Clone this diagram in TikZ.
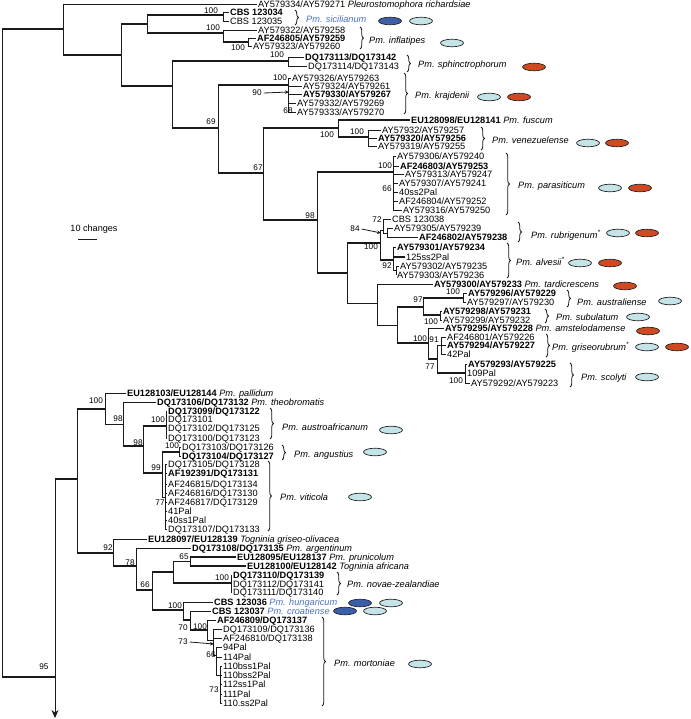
\documentclass[tikz,border=0pt]{standalone}
\usepackage{fontspec}
\setmainfont{Liberation Sans}
\usetikzlibrary{decorations.pathreplacing,arrows.meta}
\definecolor{lb}{HTML}{C4E4E8}
\definecolor{db}{HTML}{3C5FAA}
\definecolor{rd}{HTML}{CF4A22}
\definecolor{bt}{HTML}{4D72C2}
\definecolor{ln}{HTML}{1A1A1A}
\newcommand\hh[3][thk]{\draw[#1] (#2 |- #3) -- (#3);}
\newcommand\vv[3]{\draw[vl] (#1 |- #2) -- (#1 |- #3);}
\newcommand\ovl[3]{\filldraw[fill=#1, draw=black!85, line width=0.7pt] (#2,#3) ellipse [x radius=11.5pt, y radius=3.8pt];}
\begin{document}
\begin{tikzpicture}[x=1pt,y=-1pt,
 thk/.style={line width=2pt, draw=ln},
 thn/.style={line width=0.8pt, draw=ln},
 vl/.style={line width=0.9pt, draw=ln},
 lf/.style={anchor=west, inner xsep=1pt, inner ysep=0pt, font=\fontsize{9.2}{10}\selectfont, text height=6.4pt, text depth=0pt},
 bsv/.style={inner sep=0pt, font=\fontsize{8.2}{9}\selectfont},
 spc/.style={anchor=west, inner sep=0pt, font=\fontsize{9.2}{10}\selectfont\itshape, text height=6.4pt, text depth=0pt},
 br/.style={decorate, decoration={brace, amplitude=3.5pt}, line width=0.8pt, draw=ln}
]
\useasboundingbox[fill=white] (0,0) rectangle (690,719);

% ---------------- leaves, upper clade
\node[lf] (pl) at (257,4) {AY579334/AY579271 \textit{Pleurostomophora richardsiae}};
\node[lf] (si1) at (229,12.5) {\textbf{CBS 123034}};
\node[lf] (si2) at (229,21) {CBS 123035};
\node[lf] (in1) at (257,30) {AY579322/AY579258};
\node[lf] (in2) at (256,38) {\textbf{AF246805/AY579259}};
\node[lf] (in3) at (252,46) {AY579323/AY579260};
\node[lf] (sp1) at (304,57) {\textbf{DQ173113/DQ173142}};
\node[lf] (sp2) at (307,66) {DQ173114/DQ173143};
\node[lf] (kr1) at (291,78) {AY579326/AY579263};
\node[lf] (kr2) at (302,86) {AY579324/AY579261};
\node[lf] (kr3) at (302,94) {\textbf{AY579330/AY579267}};
\node[lf] (kr4) at (296,103) {AY579332/AY579269};
\node[lf] (kr5) at (296,112) {AY579333/AY579270};
\node[lf] (fu) at (410,120) {\textbf{EU128098/EU128141} \textit{Pm. fuscum}};
\node[lf] (ve1) at (381,130) {AY57932/AY579257};
\node[lf] (ve2) at (377,138) {\textbf{AY579320/AY579256}};
\node[lf] (ve3) at (377,146) {AY579319/AY579255};
\node[lf] (pa1) at (396,156) {AY579306/AY579240};
\node[lf] (pa2) at (399,166) {\textbf{AF246803/AY579253}};
\node[lf] (pa3) at (404,174) {AY579313/AY579247};
\node[lf] (pa4) at (398,183) {AY579307/AY579241};
\node[lf] (pa5) at (398,192) {40ss2Pal};
\node[lf] (pa6) at (398,201) {AF246804/AY579252};
\node[lf] (pa7) at (402,210) {AY579316/AY579250};
\node[lf] (ru1) at (391,219) {CBS 123038};
\node[lf] (ru2) at (393,228) {AY579305/AY579239};
\node[lf] (ru3) at (418,237) {\textbf{AF246802/AY579238}};
\node[lf] (al1) at (396,247) {\textbf{AY579301/AY579234}};
\node[lf] (al2) at (405,257) {125ss2Pal};
\node[lf] (al3) at (399,266) {AY579302/AY579235};
\node[lf] (al4) at (396,275) {AY579303/AY579236};
\node[lf] (ta) at (433,284) {\textbf{AY579300/AY579233} \textit{Pm. tardicrescens}};
\node[lf] (au1) at (467,293) {\textbf{AY579296/AY579229}};
\node[lf] (au2) at (466,302) {AY579297/AY579230};
\node[lf] (su1) at (442,311) {\textbf{AY579298/AY579231}};
\node[lf] (su2) at (442,320) {AY579299/AY579232};
\node[lf] (am) at (444,328.5) {\textbf{AY579295/AY579228} \textit{Pm. amstelodamense}};
\node[lf] (gr1) at (446,337) {AF246801/AY579226};
\node[lf] (gr2) at (446,345.5) {\textbf{AY579294/AY579227}};
\node[lf] (gr3) at (446,354) {42Pal};
\node[lf] (sc1) at (467,364) {\textbf{AY579293/AY579225}};
\node[lf] (sc2) at (466,373) {109Pal};
\node[lf] (sc3) at (470,383) {AY579292/AY579223};

% ---------------- leaves, lower clade
\node[lf] (pd) at (126,393.5) {\textbf{EU128103/EU128144} \textit{Pm. pallidum}};
\node[lf] (th) at (156,402) {\textbf{DQ173106/DQ173132} \textit{Pm. theobromatis}};
\node[lf] (aa1) at (167,411) {\textbf{DQ173099/DQ173122}};
\node[lf] (aa2) at (167,419.5) {DQ173101};
\node[lf] (aa3) at (167,428.5) {DQ173102/DQ173125};
\node[lf] (aa4) at (167,438) {DQ173100/DQ173123};
\node[lf] (an1) at (181,447.5) {DQ173103/DQ173126};
\node[lf] (an2) at (181,456) {\textbf{DQ173104/DQ173127}};
\node[lf] (vi1) at (167,464.5) {DQ173105/DQ173128};
\node[lf] (vi2) at (167,473.5) {\textbf{AF192391/DQ173131}};
\node[lf] (vi3) at (167,484) {AF246815/DQ173134};
\node[lf] (vi4) at (167,493) {AF246816/DQ173130};
\node[lf] (vi5) at (167,502.5) {AF246817/DQ173129};
\node[lf] (vi6) at (167,511) {41Pal};
\node[lf] (vi7) at (167,520) {40ss1Pal};
\node[lf] (vi8) at (167,529) {DQ173107/DQ173133};
\node[lf] (go) at (147,539) {\textbf{EU128097/EU128139} \textit{Togninia griseo-olivacea}};
\node[lf] (ar) at (191,548) {\textbf{DQ173108/DQ173135} \textit{Pm. argentinum}};
\node[lf] (pr) at (236,557) {\textbf{EU128095/EU128137} \textit{Pm. prunicolum}};
\node[lf] (af) at (246,566) {\textbf{EU128100/EU128142} \textit{Togninia africana}};
\node[lf] (nz1) at (232,575) {\textbf{DQ173110/DQ173139}};
\node[lf] (nz2) at (232,584) {DQ173112/DQ173141};
\node[lf] (nz3) at (232,592.5) {DQ173111/DQ173140};
\node[lf] (hu) at (213,602) {\textbf{CBS 123036} \textcolor{bt}{\textit{Pm. hungaricum}}};
\node[lf] (cr) at (211,611) {\textbf{CBS 123037} \textcolor{bt}{\textit{Pm. croatiense}}};
\node[lf] (mo1) at (216,620) {\textbf{AF246809/DQ173137}};
\node[lf] (mo2) at (222,629.5) {DQ173109/DQ173136};
\node[lf] (mo3) at (222,638) {AF246810/DQ173138};
\node[lf] (mo4) at (222,647) {94Pal};
\node[lf] (mo5) at (222,657) {114Pal};
\node[lf] (mo6) at (222,666) {110bss1Pal};
\node[lf] (mo7) at (222,675) {110bss2Pal};
\node[lf] (mo8) at (222,684) {112ss1Pal};
\node[lf] (mo9) at (222,694) {111Pal};
\node[lf] (mo10) at (222,703) {110.ss2Pal};

% ---------------- internal nodes (x = node, y = where parent branch enters)
\coordinate (R) at (2,29);   \coordinate (R2) at (2,677);
\coordinate (A1) at (63,29); \coordinate (N1) at (121,55);
\coordinate (N2) at (147,24); \coordinate (SI) at (223,15);
\coordinate (IN) at (223,33); \coordinate (IN2) at (248,42);
\coordinate (S) at (172,86);  \coordinate (SP) at (288,61);
\coordinate (K) at (218,128); \coordinate (KR) at (288,85);
\coordinate (N67) at (263,173); \coordinate (FV) at (338,128);
\coordinate (VZ) at (368,137); \coordinate (N98) at (317,220);
\coordinate (PA) at (393,172); \coordinate (L) at (347,273);
\coordinate (RA) at (380,243); \coordinate (RU) at (383,230);
\coordinate (RU2) at (387,233); \coordinate (AL) at (393,260);
\coordinate (AL2) at (396,270); \coordinate (T) at (377,303);
\coordinate (U) at (397,325); \coordinate (N97) at (423,307);
\coordinate (AUS) at (463,298); \coordinate (SUB) at (440,315);
\coordinate (NC) at (428,343); \coordinate (N77) at (437,359);
\coordinate (GR) at (441,345); \coordinate (SC) at (465,373);
\coordinate (L0) at (55,677); \coordinate (L1) at (77,479);
\coordinate (arr) at (55,718);
\coordinate (P100) at (105,409); \coordinate (T98) at (123,424);
\coordinate (A98) at (143,446); \coordinate (AU) at (166,426);
\coordinate (V99) at (162,473); \coordinate (AN) at (179,452);
\coordinate (VI) at (165,497); \coordinate (G92) at (113,553);
\coordinate (N78) at (136,566); \coordinate (N66) at (152,590);
\coordinate (B) at (173,572); \coordinate (P65) at (190,561);
\coordinate (NZ) at (231,583); \coordinate (C100) at (183,610);
\coordinate (C70) at (190,620); \coordinate (MO) at (207,630);
\coordinate (M2) at (213,640); \coordinate (M3) at (216,655);
\coordinate (M4) at (220,675);

% ---------------- root
\draw[vl] (R) -- (R2);
\hh{R}{A1} \hh{R2}{L0}
\draw[vl, -{Stealth[length=8pt,width=7pt]}] (L0 |- L1) -- (arr);
\hh{L0}{L1}

% ---------------- upper clade edges
\vv{A1}{pl.west}{N1}
\hh[thn]{A1}{pl.west} \hh{A1}{N1}
\vv{N1}{N2}{S}
\hh{N1}{N2} \hh{N1}{S}
\vv{N2}{SI}{IN}
\hh{N2}{SI} \hh{N2}{IN}
\vv{SI}{si1.west}{si2.west}
\hh[thn]{SI}{si1.west} \hh[thn]{SI}{si2.west}
\vv{IN}{in1.west}{IN2}
\hh[thn]{IN}{in1.west} \hh{IN}{IN2}
\vv{IN2}{in2.west}{in3.west}
\hh[thn]{IN2}{in2.west} \hh[thn]{IN2}{in3.west}
\vv{S}{SP}{K}
\hh{S}{SP} \hh{S}{K}
\vv{SP}{sp1.west}{sp2.west}
\hh[thn]{SP}{sp1.west} \hh[thn]{SP}{sp2.west}
\vv{K}{KR}{N67}
\hh{K}{KR} \hh{K}{N67}
\vv{KR}{kr1.west}{kr5.west}
\foreach \c in {kr1,kr2,kr3,kr4,kr5} {\hh[thn]{KR}{\c.west}}
\vv{N67}{FV}{N98}
\hh{N67}{FV} \hh{N67}{N98}
\vv{FV}{fu.west}{VZ}
\hh{FV}{fu.west} \hh{FV}{VZ}
\vv{VZ}{ve1.west}{ve3.west}
\foreach \c in {ve1,ve2,ve3} {\hh[thn]{VZ}{\c.west}}
\vv{N98}{PA}{L}
\hh{N98}{PA} \hh{N98}{L}
\vv{PA}{pa1.west}{pa7.west}
\foreach \c in {pa1,pa2,pa3,pa4,pa5,pa6,pa7} {\hh[thn]{PA}{\c.west}}
\vv{L}{RA}{T}
\hh{L}{RA} \hh[thn]{L}{T}
\vv{RA}{RU}{AL}
\hh[thn]{RA}{RU} \hh{RA}{AL}
\vv{RU}{ru1.west}{RU2}
\hh[thn]{RU}{ru1.west} \hh[thn]{RU}{RU2}
\vv{RU2}{ru2.west}{ru3.west}
\hh[thn]{RU2}{ru2.west} \hh[thn]{RU2}{ru3.west}
\vv{AL}{al1.west}{AL2}
\hh[thn]{AL}{al1.west} \hh{AL}{al2.west} \hh[thn]{AL}{AL2}
\vv{AL2}{al3.west}{al4.west}
\hh[thn]{AL2}{al3.west} \hh[thn]{AL2}{al4.west}
\vv{T}{ta.west}{U}
\hh[thn]{T}{ta.west} \hh[thn]{T}{U}
\vv{U}{N97}{NC}
\hh{U}{N97} \hh{U}{NC}
\vv{N97}{AUS}{SUB}
\hh{N97}{AUS} \hh{N97}{SUB}
\vv{AUS}{au1.west}{au2.west}
\hh[thn]{AUS}{au1.west} \hh[thn]{AUS}{au2.west}
\vv{SUB}{su1.west}{su2.west}
\hh[thn]{SUB}{su1.west} \hh[thn]{SUB}{su2.west}
\vv{NC}{am.west}{N77}
\hh[thn]{NC}{am.west} \hh{NC}{N77}
\vv{N77}{GR}{SC}
\hh[thn]{N77}{GR} \hh{N77}{SC}
\vv{GR}{gr1.west}{gr3.west}
\foreach \c in {gr1,gr2,gr3} {\hh[thn]{GR}{\c.west}}
\vv{SC}{sc1.west}{sc3.west}
\foreach \c in {sc1,sc2,sc3} {\hh[thn]{SC}{\c.west}}

% ---------------- lower clade edges
\vv{L1}{P100}{G92}
\hh{L1}{P100} \hh{L1}{G92}
\vv{P100}{pd.west}{T98}
\hh[thn]{P100}{pd.west} \hh[thn]{P100}{T98}
\vv{T98}{th.west}{A98}
\hh[thn]{T98}{th.west} \hh{T98}{A98}
\vv{A98}{AU}{V99}
\hh{A98}{AU} \hh{A98}{V99}
\vv{AU}{aa1.west}{aa4.west}
\foreach \c in {aa1,aa2,aa3,aa4} {\hh[thn]{AU}{\c.west}}
\vv{V99}{AN}{VI}
\hh{V99}{AN} \hh[thn]{V99}{VI}
\vv{AN}{an1.west}{an2.west}
\hh[thn]{AN}{an1.west} \hh[thn]{AN}{an2.west}
\vv{VI}{vi1.west}{vi8.west}
\foreach \c in {vi1,vi2,vi3,vi4,vi5,vi6,vi7,vi8} {\hh[thn]{VI}{\c.west}}
\vv{G92}{go.west}{N78}
\hh[thn]{G92}{go.west} \hh{G92}{N78}
\vv{N78}{ar.west}{N66}
\hh[thn]{N78}{ar.west} \hh{N78}{N66}
\vv{N66}{B}{C100}
\hh{N66}{B} \hh{N66}{C100}
\vv{B}{P65}{NZ}
\hh[thn]{B}{P65} \hh{B}{NZ}
\vv{P65}{pr.west}{af.west}
\hh{P65}{pr.west} \hh{P65}{af.west}
\vv{NZ}{nz1.west}{nz3.west}
\foreach \c in {nz1,nz2,nz3} {\hh[thn]{NZ}{\c.west}}
\vv{C100}{hu.west}{C70}
\hh[thn]{C100}{hu.west} \hh{C100}{C70}
\vv{C70}{cr.west}{MO}
\hh[thn]{C70}{cr.west} \hh{C70}{MO}
\vv{MO}{mo1.west}{M2}
\hh[thn]{MO}{mo1.west} \hh[thn]{MO}{M2}
\vv{M2}{mo2.west}{M3}
\hh[thn]{M2}{mo2.west} \hh[thn]{M2}{mo3.west} \hh[thn]{M2}{M3}
\vv{M3}{mo4.west}{M4}
\hh[thn]{M3}{mo4.west} \hh[thn]{M3}{mo5.west} \hh[thn]{M3}{M4}
\vv{M4}{mo6.west}{mo10.west}
\foreach \c in {mo6,mo7,mo8,mo9,mo10} {\hh[thn]{M4}{\c.west}}

% ---------------- support values
\node[bsv] (s1) at (211,11) {100};
\node[bsv] (s2) at (213,28) {100};
\node[bsv] (s3) at (238,48) {100};
\node[bsv] (s4) at (277,55) {100};
\node[bsv] (s5) at (280,78) {100};
\node[bsv] (s6) at (257,93) {90};
\node[bsv] (s7) at (288,111) {68};
\node[bsv] (s8) at (211,122) {69};
\node[bsv] (s9) at (327,135) {100};
\node[bsv] (s10) at (357,132) {100};
\node[bsv] (s11) at (258,168) {67};
\node[bsv] (s12) at (385,166) {100};
\node[bsv] (s13) at (387,189) {66};
\node[bsv] (s14) at (310,216) {98};
\node[bsv] (s15) at (377,220) {72};
\node[bsv] (s16) at (355,229) {84};
\node[bsv] (s17) at (371,247) {100};
\node[bsv] (s18) at (387,266) {92};
\node[bsv] (s19) at (418,300) {97};
\node[bsv] (s20) at (453,292) {100};
\node[bsv] (s21) at (431,322) {100};
\node[bsv] (s22) at (420,339) {100};
\node[bsv] (s23) at (434,340) {91};
\node[bsv] (s24) at (430,367) {77};
\node[bsv] (s25) at (456,381) {100};
\node[bsv] (s26) at (96,401) {100};
\node[bsv] (s27) at (118,419) {98};
\node[bsv] (s28) at (138,443) {98};
\node[bsv] (s29) at (158,420) {100};
\node[bsv] (s30) at (172,446) {100};
\node[bsv] (s31) at (156,468) {99};
\node[bsv] (s32) at (160,503) {77};
\node[bsv] (s33) at (108,548) {92};
\node[bsv] (s34) at (130,563) {78};
\node[bsv] (s35) at (145,585) {66};
\node[bsv] (s36) at (184,557) {65};
\node[bsv] (s37) at (222,578) {100};
\node[bsv] (s38) at (175,606) {100};
\node[bsv] (s39) at (183,628) {70};
\node[bsv] (s40) at (200,627) {100};
\node[bsv] (s41) at (183,642) {73};
\node[bsv] (s42) at (211,655) {66};
\node[bsv] (s43) at (214,690) {73};
\node[bsv] (s44) at (44,667) {95};
\coordinate (p90) at (289,92); \coordinate (p84) at (381,233); \coordinate (p73) at (214,644);
\draw[thn, -{Stealth[length=4pt,width=3.5pt]}] (s6.east) ++(2,0) -- (p90);
\draw[thn, -{Stealth[length=4pt,width=3.5pt]}] (s16.east) ++(2,0) -- (p84);
\draw[thn, -{Stealth[length=4pt,width=3.5pt]}] (s41.east) ++(2,0) -- (p73);

% ---------------- scale bar
\node[font=\fontsize{9.1}{10}\selectfont, inner sep=0pt] (scl) at (94,229) {10 changes};
\coordinate (sb1) at (78,239); \coordinate (sb2) at (97,239);
\draw[thn] (sb1) -- (sb2);

% ---------------- species brackets and names
\draw[br] (295,10) -- (295,25);  \node[spc, text=bt] (nsic) at (306,19) {Pm. sicilianum};
\draw[br] (360,27) -- (360,49);  \node[spc] (ninf) at (369,40) {Pm. inflatipes};
\draw[br] (407,55) -- (407,72);  \node[spc] (nsph) at (418,64) {Pm. sphinctrophorum};
\draw[br] (404,73) -- (404,114); \node[spc] (nkra) at (415,95) {Pm. krajdenii};
\draw[br] (481,127) -- (481,150); \node[spc] (nven) at (492,140) {Pm. venezuelense};
\draw[br] (506,153) -- (506,215); \node[spc] (npar) at (518,185) {Pm. parasiticum};
\draw[br] (518,222) -- (518,242); \node[spc] (nrub) at (531,235) {Pm. rubrigenum\textsuperscript{*}};
\draw[br] (507,243) -- (507,278); \node[spc] (nalv) at (516,262) {Pm. alvesii\textsuperscript{*}};
\draw[br] (567,290) -- (567,307); \node[spc] (naus) at (577,302) {Pm. australiense};
\draw[br] (545,309) -- (545,323); \node[spc] (nsub) at (556,317) {Pm. subulatum};
\draw[br] (546,334) -- (546,357); \node[spc] (ngri) at (552,347) {Pm. griseorubrum\textsuperscript{*}};
\draw[br] (570,363) -- (570,387); \node[spc] (nsco) at (581,377) {Pm. scolyti};
\draw[br] (270,408) -- (270,439); \node[spc] (naaf) at (282,427) {Pm. austroafricanum};
\draw[br] (282,445) -- (282,460); \node[spc] (nang) at (294,454) {Pm. angustius};
\draw[br] (268,461) -- (268,531); \node[spc] (nvit) at (280,497) {Pm. viticola};
\draw[br] (337,572) -- (337,595); \node[spc] (nnov) at (347,584) {Pm. novae-zealandiae};
\draw[br] (322,617) -- (322,706); \node[spc] (nmor) at (334,663) {Pm. mortoniae};

% ---------------- ellipses
\ovl{db}{390}{21} \ovl{lb}{421}{21}
\ovl{lb}{452}{43}
\ovl{rd}{534}{67}
\ovl{lb}{489}{97} \ovl{rd}{519}{97}
\ovl{lb}{588}{143} \ovl{rd}{617}{143}
\ovl{lb}{610}{188} \ovl{rd}{640}{188}
\ovl{lb}{618}{233} \ovl{rd}{647}{233}
\ovl{lb}{580}{263} \ovl{rd}{610}{263}
\ovl{rd}{625}{286}
\ovl{lb}{670}{301}
\ovl{lb}{638}{317}
\ovl{rd}{648}{331}
\ovl{lb}{647}{347} \ovl{rd}{677}{347}
\ovl{lb}{647}{377}
\ovl{lb}{391}{430}
\ovl{lb}{375}{452}
\ovl{lb}{360}{497}
\ovl{db}{360}{603} \ovl{lb}{391}{603}
\ovl{db}{345}{611} \ovl{lb}{375}{611}
\ovl{lb}{420}{664}
\end{tikzpicture}
\end{document}
